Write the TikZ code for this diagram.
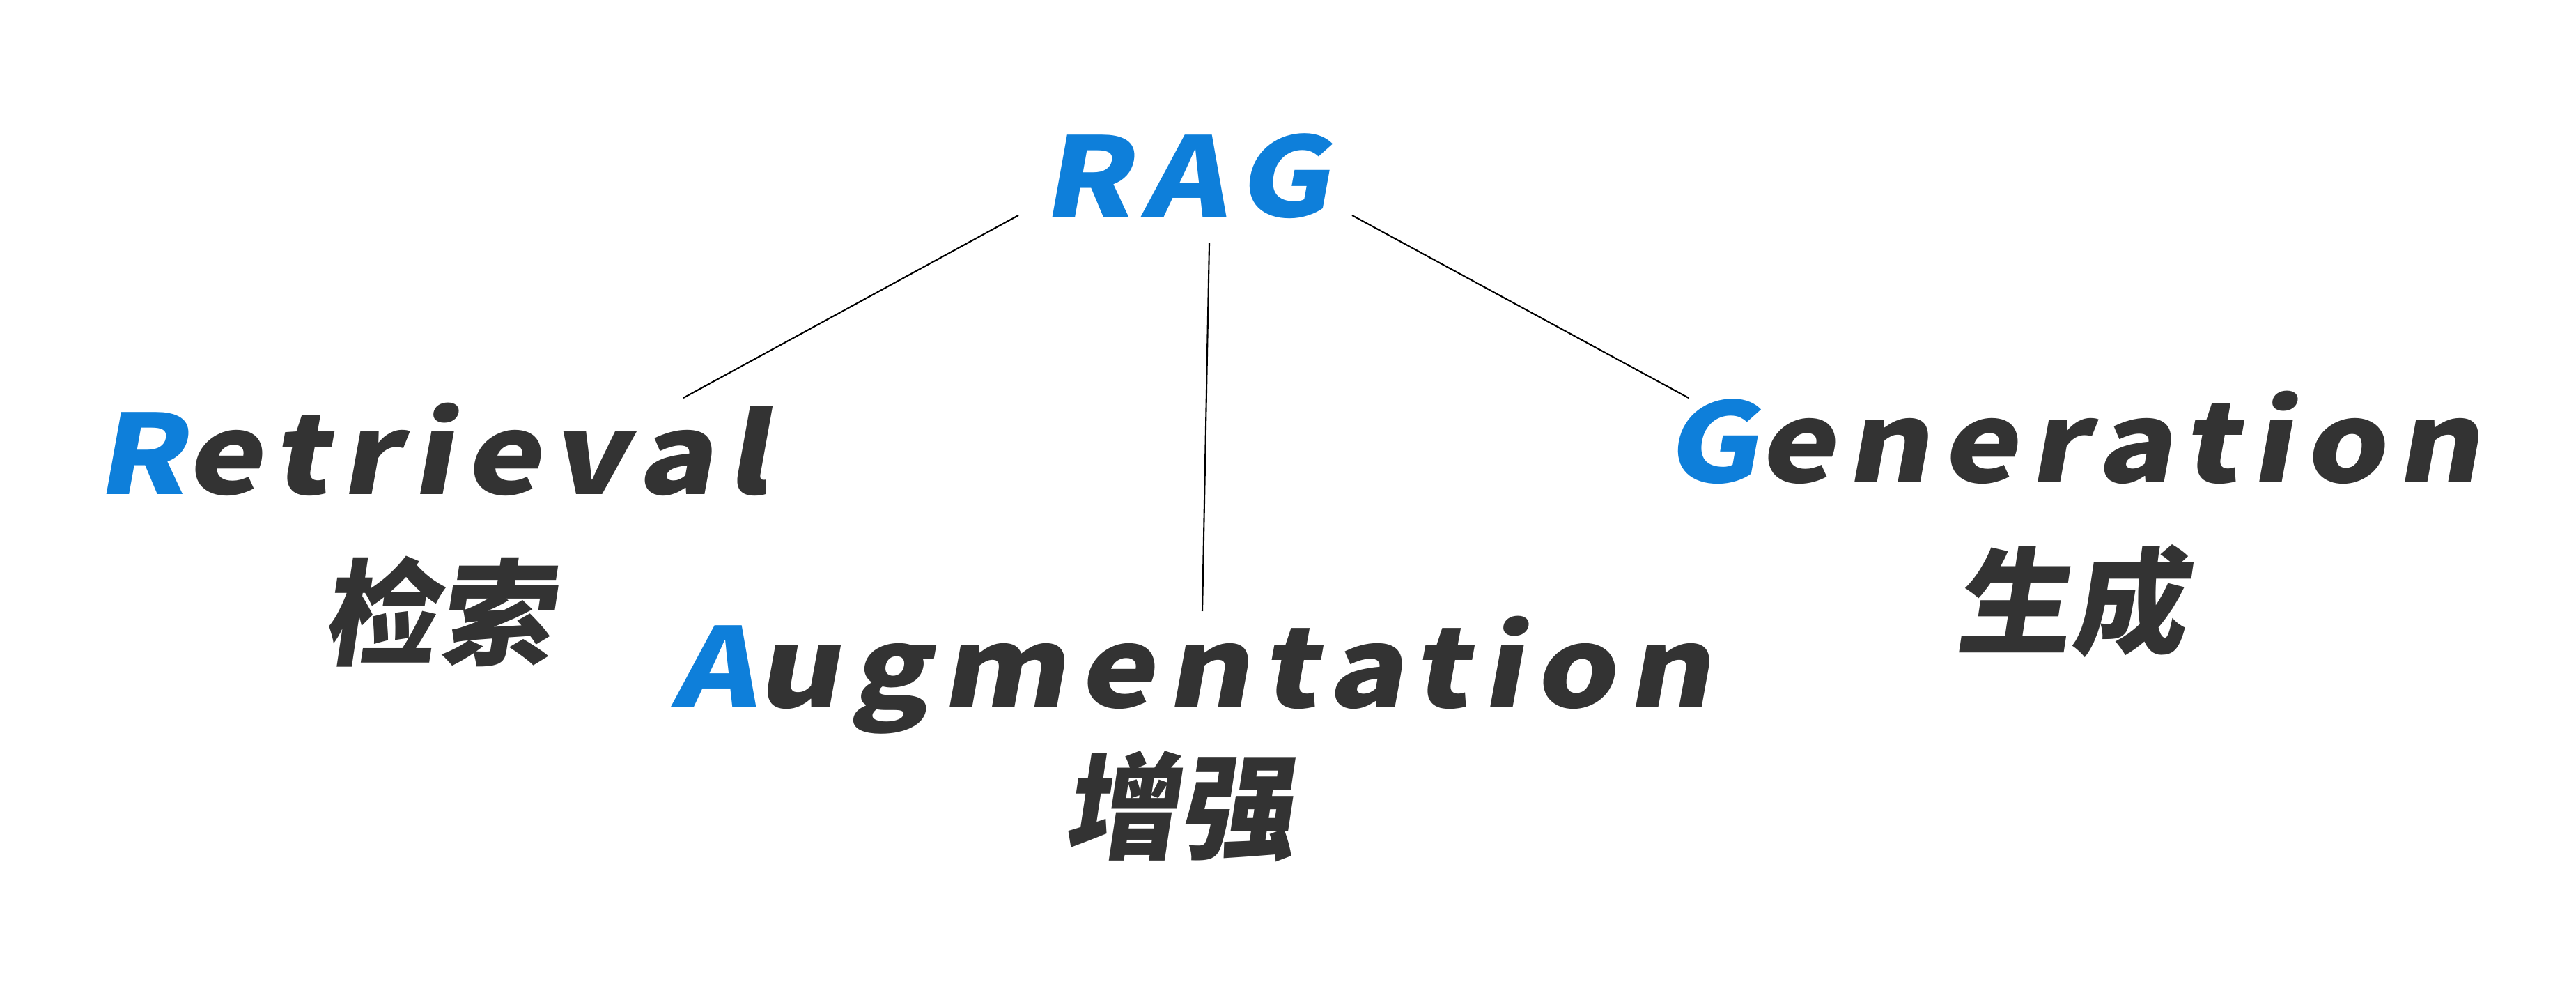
\documentclass[tikz,border=0pt]{standalone}
\usepackage{fontspec}
\usepackage{tikz}
\newfontfamily\disp{Noto Sans CJK SC}[FakeSlant=0.18,FakeStretch=1.15,LetterSpace=11]
\newfontfamily\dispcjk{Noto Sans CJK SC}[FakeSlant=0.15]
\definecolor{ragBlue}{HTML}{0E7FDA}
\definecolor{ragGray}{HTML}{333333}
\newcommand{\hl}[1]{\textcolor{ragBlue}{#1}}

\begin{document}
\begin{tikzpicture}[scale=1.0,
  word/.style={inner sep=0pt, anchor=base, text=ragGray, font=\disp\bfseries\fontsize{45}{50}\selectfont},
  hanzi/.style={inner sep=0pt, text=ragGray, font=\dispcjk\bfseries\fontsize{47}{50}\selectfont},
  link/.style={draw=black, line width=0.6pt}]
\useasboundingbox (0,0) rectangle (36.98,14.12);


\node[word] (rag) at (17.02,11.00) {\hl{RAG}};

\node[word] (ret) at (6.20,7.02) {\hl{R}etrieval};
\node[hanzi] (retzh) at (6.28,5.34) {检索};

\node[word] (aug) at (17.10,3.96) {\hl{A}ugmentation};
\node[hanzi] (augzh) at (16.92,2.55) {增强};

\node[word] (gen) at (29.75,7.19) {\hl{G}eneration};
\node[hanzi] (genzh) at (29.72,5.49) {生成};


\coordinate (ragL) at (14.62,11.03);
\coordinate (ragM) at (17.36,10.63);
\coordinate (ragR) at (19.41,11.03);
\coordinate (retT) at (9.81,8.41);
\coordinate (augT) at (17.26,5.35);
\coordinate (genT) at (24.24,8.41);

\draw[link] (ragL) -- (retT);
\draw[link] (ragM) -- (augT);
\draw[link] (ragR) -- (genT);
\end{tikzpicture}
\end{document}
